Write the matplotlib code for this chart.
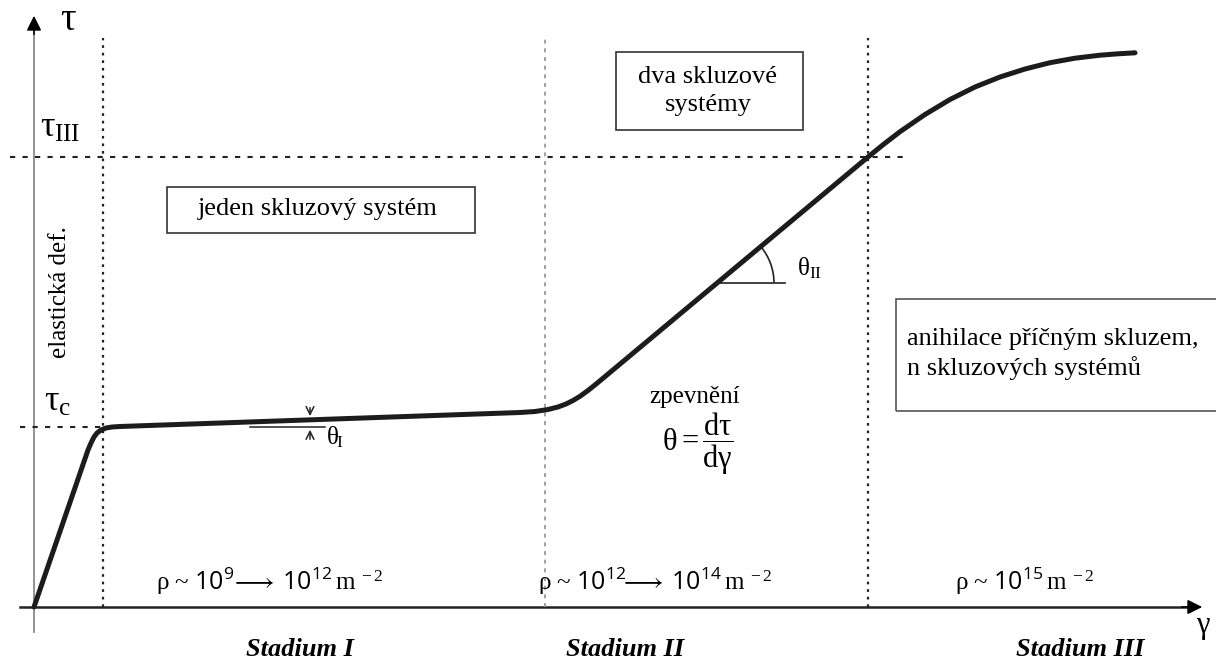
import numpy as np
import matplotlib.pyplot as plt
from matplotlib.patches import Rectangle, Arc

plt.rcParams['font.family'] = ['Liberation Serif', 'DejaVu Serif']
plt.rcParams['mathtext.fontset'] = 'custom'
plt.rcParams['mathtext.rm'] = 'Liberation Serif'
plt.rcParams['mathtext.it'] = 'Liberation Serif:italic'
plt.rcParams['mathtext.bf'] = 'Liberation Serif:bold'
plt.rcParams['mathtext.sf'] = 'Open Sans'

# shear stress vs. shear strain of a single crystal (schematic)
gamma = [0.0, 0.54, 0.57, 0.60, 0.63, 0.67, 0.72, 0.78, 0.86, 2.66, 4.46, 4.86,
         5.01, 5.14, 5.24, 5.32, 5.39, 5.46, 5.54, 5.62, 8.34, 8.50, 8.66, 8.91,
         9.16, 9.41, 9.66, 9.91, 10.16, 10.41, 10.66, 10.84, 11.01]
tau = [0.0, 1.57, 1.64, 1.70, 1.74, 1.77, 1.79, 1.80, 1.805, 1.868, 1.931, 1.945,
       1.955, 1.975, 2.00, 2.03, 2.065, 2.107, 2.165, 2.229, 4.50, 4.63, 4.753, 4.925,
       5.075, 5.20, 5.30, 5.38, 5.443, 5.488, 5.518, 5.532, 5.542]

# stage boundaries and characteristic stresses
stage_bounds = [0.69, 5.11, 8.34]
tau_c = 1.80
tau_III = 4.50

stage_names = ['Stadium I', 'Stadium II', 'Stadium III']
densities = [r'ρ ~ $\mathsf{10^{9}}\!\longrightarrow\;\mathsf{10^{12}}\,\mathrm{m^{\ -2}}$',
             r'ρ ~ $\mathsf{10^{12}}\!\!\longrightarrow\;\mathsf{10^{14}}\,\mathrm{m^{\ -2}}$',
             r'ρ ~ $\mathsf{10^{15}}\,\mathrm{m^{\ -2}}$']

fig = plt.figure(figsize=(12.16, 6.67), dpi=100)
ax = fig.add_axes([0, 0, 1, 1])
ax.set_xlim(-0.34, 11.82)
ax.set_ylim(-0.60, 6.07)
ax.axis('off')

# axes with arrows
ax.plot([0, 0], [-0.25, 5.85], color='#8a8a8a', lw=1.3)
ax.annotate('', xy=(0, 5.94), xytext=(0, 5.70),
            arrowprops=dict(arrowstyle='-|>', color='black', lw=1.2, mutation_scale=22))
ax.plot([-0.14, 11.6], [0, 0], color='#222222', lw=1.8)
ax.annotate('', xy=(11.71, 0), xytext=(11.45, 0),
            arrowprops=dict(arrowstyle='-|>', color='black', lw=1.2, mutation_scale=22))

# guide lines
ax.plot([stage_bounds[0]] * 2, [0, 5.69], color='#222222', lw=1.6, ls=(0, (1.2, 2.2)))
ax.plot([stage_bounds[1]] * 2, [0, 5.69], color='#999999', lw=1.3, ls=(0, (2.2, 2.6)))
ax.plot([stage_bounds[2]] * 2, [0, 5.69], color='#222222', lw=1.6, ls=(0, (1.2, 2.2)))
ax.plot([-0.24, 8.76], [tau_III] * 2, color='#222222', lw=1.5, ls=(0, (2.5, 3.5)))
ax.plot([-0.14, stage_bounds[0]], [tau_c] * 2, color='#222222', lw=1.5, ls=(0, (2.5, 3.5)))

# curve
ax.plot(gamma, tau, color='#1c1c1c', lw=3.6, solid_capstyle='round', solid_joinstyle='round')

# theta_I mark
ax.plot([2.16, 2.91], [1.805, 1.805], color='#222222', lw=1.1)
t1 = np.interp(2.76, gamma, tau)
ax.annotate('', xy=(2.76, t1 + 0.01), xytext=(2.76, t1 + 0.15),
            arrowprops=dict(arrowstyle='->', color='#222222', lw=1.1, mutation_scale=14))
ax.annotate('', xy=(2.76, 1.80), xytext=(2.76, 1.65),
            arrowprops=dict(arrowstyle='->', color='#222222', lw=1.1, mutation_scale=14))
ax.text(2.92, 1.70, r'$\mathrm{θ_{\!I}}$', fontsize=18, ha='left', va='center')

# theta_II mark
g2 = 6.83
t2 = np.interp(g2, gamma, tau)
ax.plot([g2, 7.51], [t2, t2], color='#222222', lw=1.2)
ax.add_patch(Arc((g2, t2), 1.14, 1.14, theta1=0, theta2=40, color='#222222', lw=1.2))
ax.text(7.63, 3.39, r'$\mathrm{θ_{II}}$', fontsize=18, ha='left', va='center')

# stress labels
ax.text(0.34, 5.86, 'τ', fontsize=28, ha='center', va='center')
ax.text(0.26, 4.79, r'$\mathrm{τ_{III}}$', fontsize=26, ha='center', va='center')
ax.text(0.24, 2.05, r'$\mathrm{τ_{c}}$', fontsize=26, ha='center', va='center')
ax.text(0.26, 3.15, 'elastická def.', fontsize=18, rotation=90, ha='center', va='center')

# boxes
ax.add_patch(Rectangle((1.33, 3.74), 3.08, 0.46, fill=False, ec='#333333', lw=1.2))
ax.text(2.84, 3.98, 'jeden skluzový systém', fontsize=19, ha='center', va='center')
ax.add_patch(Rectangle((5.82, 4.77), 1.87, 0.78, fill=False, ec='#333333', lw=1.2))
ax.text(6.74, 5.16, 'dva skluzové\nsystémy', fontsize=19, ha='center', va='center',
        multialignment='center', linespacing=1.3)
ax.add_patch(Rectangle((8.62, 1.96), 3.5, 1.12, fill=False, ec='#555555', lw=1.2))
ax.text(8.73, 2.53, 'anihilace příčným skluzem,\nn skluzových systémů', fontsize=19,
        ha='left', va='center', linespacing=1.3)

# hardening
ax.text(6.61, 2.10, 'zpevnění', fontsize=18, ha='center', va='center')
ax.text(6.64, 1.63, r'$\mathrm{θ} = \dfrac{\mathrm{dτ}}{\mathrm{dγ}}$', fontsize=22,
        ha='center', va='center')

# dislocation densities and stage names
rho_x = [2.36, 6.21, 9.91]
name_x = [2.66, 5.91, 10.46]
for x, d in zip(rho_x, densities):
    ax.text(x, 0.26, d, fontsize=18, ha='center', va='center')
for x, n in zip(name_x, stage_names):
    ax.text(x, -0.42, n, fontsize=19, ha='center', va='center',
            fontweight='bold', fontstyle='italic')
ax.text(11.69, -0.19, 'γ', fontsize=22, ha='center', va='center')

fig.savefig('out.png', dpi=100)
